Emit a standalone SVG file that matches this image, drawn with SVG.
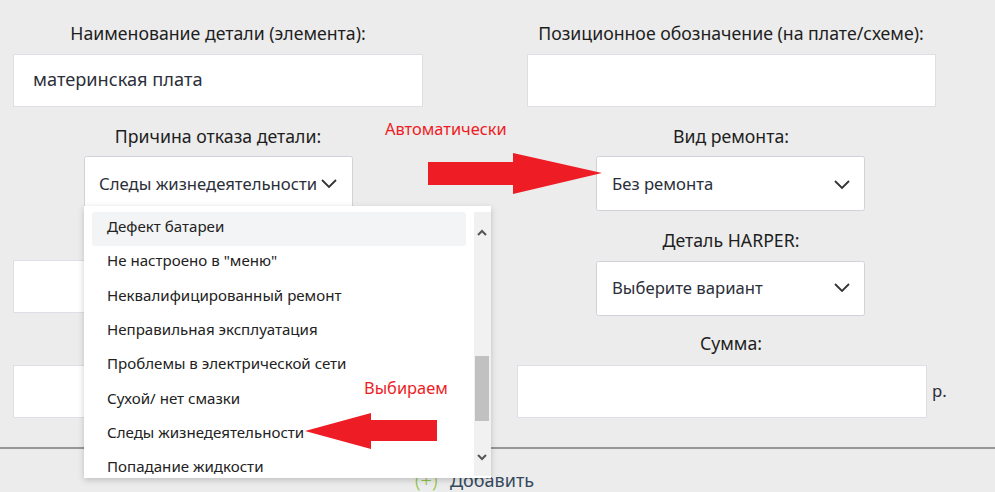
<svg xmlns="http://www.w3.org/2000/svg" width="995" height="492" viewBox="0 0 995 492">
<defs>
<style>
.lbl{font-family:"Noto Sans","Open Sans",sans-serif;font-size:17.7px;fill:#1e1e1e;text-anchor:middle}
.val{font-family:"Noto Sans","Open Sans",sans-serif;font-size:16.7px;fill:#2b2f3a}
.item{font-family:"Noto Sans","Open Sans",sans-serif;font-size:15.1px;fill:#222}
.red{font-family:"Noto Sans","Open Sans",sans-serif;font-size:16.4px;fill:#ee1c25}
.box{fill:#fff;stroke:#dcdfe6;stroke-width:1}
.sel{fill:#fff;stroke:#cfd2d8;stroke-width:1}
.chev{fill:none;stroke:#333;stroke-width:1.8}
.arrow{fill:#ee1c25}
</style>
<filter id="sh" x="-10%" y="-10%" width="120%" height="120%">
<feDropShadow dx="0" dy="2" stdDeviation="3" flood-color="#000" flood-opacity="0.2"/>
</filter>
</defs>
<rect width="995" height="492" fill="#ececec"/>
<line x1="0" y1="448" x2="995" y2="448" stroke="#7a7a7a" stroke-width="1.5"/>

<g id="name-field">
<text class="lbl" x="218" y="40">Наименование детали (элемента):</text>
<rect class="box" x="13.5" y="54.5" width="409" height="52"/>
<text class="val" x="33" y="86" style="font-size:18.2px">материнская плата</text>
</g>

<g id="position-field">
<text class="lbl" x="731" y="40">Позиционное обозначение (на плате/схеме):</text>
<rect class="box" x="527.5" y="54.5" width="408" height="52"/>
</g>

<g id="hidden-left-fields">
<rect class="box" x="13.5" y="260.5" width="80" height="52"/>
<rect class="box" x="13.5" y="365.5" width="80" height="52"/>
</g>

<g id="reason-select">
<text class="lbl" x="218" y="143">Причина отказа детали:</text>
<rect class="sel" x="84.5" y="156.5" width="268" height="54" rx="2"/>
<text class="val" x="99" y="190">Следы жизнедеятельности</text>
<polyline class="chev" points="322,180 329,187 336,180"/>
</g>

<g id="repair-select">
<text class="lbl" x="731" y="143">Вид ремонта:</text>
<rect class="sel" x="596.5" y="156.5" width="268" height="54" rx="2"/>
<text class="val" x="612" y="190">Без ремонта</text>
<polyline class="chev" points="835,181 842,188 849,181"/>
</g>

<g id="harper-select">
<text class="lbl" x="731" y="247">Деталь HARPER:</text>
<rect class="sel" x="596.5" y="261.5" width="268" height="54" rx="2"/>
<text class="val" x="612" y="294">Выберите вариант</text>
<polyline class="chev" points="835,284 842,291 849,284"/>
</g>

<g id="sum-field">
<text class="lbl" x="731" y="350">Сумма:</text>
<rect class="box" x="517.5" y="365.5" width="409" height="52"/>
<text class="val" x="932" y="397">р.</text>
</g>

<g id="add-button">
<text x="415" y="487" style="font-family:'Noto Sans','Open Sans',sans-serif;font-size:20px;font-weight:300;fill:#8dc63f">(+)</text>
<text x="450" y="487" style="font-family:'Noto Sans','Open Sans',sans-serif;font-size:18px;fill:#34495e">Добавить</text>
</g>

<g id="dropdown-list">
<rect x="84" y="206" width="407" height="272" fill="#fff" filter="url(#sh)"/>
<rect x="92" y="212" width="374" height="34" rx="3" fill="#f3f4f6"/>
<rect x="474" y="212" width="17" height="264" fill="#f1f1f1"/>
<rect x="475" y="356" width="14" height="65" fill="#c1c1c1"/>
<polyline points="478,235 482,231 486,235" fill="none" stroke="#555" stroke-width="2"/>
<polyline points="478,455 482,459 486,455" fill="none" stroke="#555" stroke-width="2"/>
<text class="item" x="107" y="232">Дефект батареи</text>
<text class="item" x="107" y="266">Не настроено в "меню"</text>
<text class="item" x="107" y="301">Неквалифицированный ремонт</text>
<text class="item" x="107" y="335">Неправильная эксплуатация</text>
<text class="item" x="107" y="369">Проблемы в электрической сети</text>
<text class="item" x="107" y="404">Сухой/ нет смазки</text>
<text class="item" x="107" y="438">Следы жизнедеятельности</text>
<text class="item" x="107" y="472">Попадание жидкости</text>
</g>

<g id="annotations">
<text class="red" x="385" y="135">Автоматически</text>
<text class="red" x="364" y="394">Выбираем</text>
</g>

<g id="connectors">
<polygon class="arrow" points="428,162 513,162 513,153 602,173 513,194 513,185 428,185"/>
<polygon class="arrow" points="305,431 371,413 371,420 437,420 437,441 371,441 371,449"/>
</g>
</svg>
